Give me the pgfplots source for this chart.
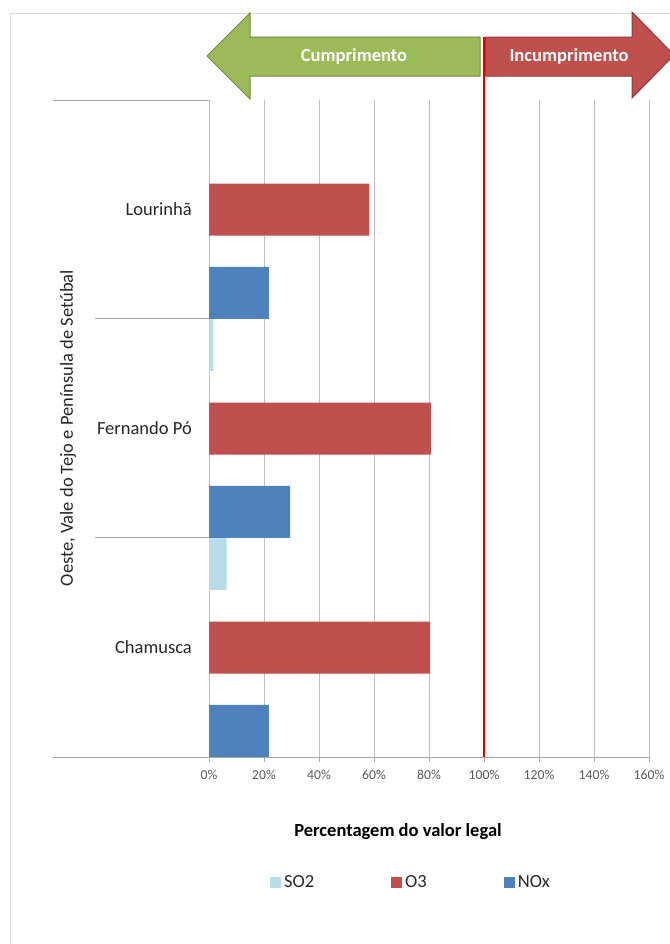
\documentclass[border=0pt]{standalone}
\usepackage{fontspec}
\setmainfont{Carlito}
\usepackage{pgfplots}
\pgfplotsset{compat=1.18}
\definecolor{cSO}{HTML}{B7DEE8}
\definecolor{cO}{HTML}{C0504D}
\definecolor{cN}{HTML}{4F81BD}
\definecolor{gArrow}{HTML}{9BBB59}
\definecolor{gArrowD}{HTML}{71893F}
\definecolor{rArrowD}{HTML}{8C3836}
\definecolor{axgray}{HTML}{A6A6A6}
\definecolor{gridgray}{HTML}{BFBFBF}
\definecolor{framegray}{HTML}{D9D9D9}
\definecolor{txt}{HTML}{262626}
\definecolor{ticktxt}{HTML}{595959}
\newcommand\fs{\fontsize{18.5bp}{22bp}\selectfont}
\newcommand\fst{\fontsize{13.7bp}{16bp}\selectfont}
\begin{document}
\begin{tikzpicture}[x=1bp,y=1bp]
\useasboundingbox (0,0) rectangle (670,-944);
\fill[white] (0,0) rectangle (670,-944);
\draw[framegray, line width=1bp] (10.5,-944) -- (10.5,-13) -- (670,-13);
% arrows
\filldraw[fill=gArrow, draw=gArrowD, line width=1bp] (207,-56) -- (250,-13) -- (250,-37) -- (480,-37) -- (480,-76) -- (250,-76) -- (250,-99) -- cycle;
\filldraw[fill=cO, draw=rArrowD, line width=1bp] (485,-37) -- (632,-37) -- (632,-12) -- (674,-55) -- (632,-98) -- (632,-76) -- (485,-76) -- cycle;
\node[white, font=\fs\bfseries] at (354,-56) {Cumprimento};
\node[white, font=\fs\bfseries] at (569,-56) {Incumprimento};
\begin{axis}[
  at={(209bp,-757bp)}, anchor=south west,
  width=440bp, height=657bp, scale only axis,
  xmin=0, xmax=160, ymin=0, ymax=3,
  axis line style={draw=none},
  xtick={0,20,...,160},
  xticklabels={0\%,20\%,40\%,60\%,80\%,100\%,120\%,140\%,160\%},
  xtick pos=left,
  tick align=outside, major tick length=5bp,
  x tick style={axgray, line width=0.8bp},
  ytick={0.5,1.5,2.5},
  yticklabels={Chamusca,Fernando Pó,Lourinhã},
  y tick style={draw=none},
  xmajorgrids, grid style={gridgray, line width=0.8bp},
  xticklabel style={font=\fst, text=ticktxt, inner sep=0pt},
  yticklabel style={font=\fs, text=txt, inner sep=0pt, anchor=east},
  xticklabel shift=7.5bp,
  yticklabel shift=12bp,
  legend columns=3,
  legend style={draw=none, fill=none, inner sep=0pt, font=\fs, text=txt,
    at={(0.4568,-0.1903)}, anchor=center,
    nodes={inner sep=0pt},
    /tikz/every odd column/.append style={column sep=3bp},
    /tikz/every even column/.append style={column sep=77bp}},
]
\addplot[xbar, bar width=0.2374, bar shift=0pt, fill=cSO, draw=none,
  legend image code/.code={\fill[cSO] (0bp,-5.5bp) rectangle (11bp,5.5bp);}]
  coordinates {(1.6,1.881) (6.4,0.881)};
\addlegendentry{SO2}
\addplot[xbar, bar width=0.2374, bar shift=0pt, fill=cO, draw=none,
  legend image code/.code={\fill[cO] (0bp,-5.5bp) rectangle (11bp,5.5bp);}]
  coordinates {(58.2,2.5) (80.7,1.5) (80.4,0.5)};
\addlegendentry{O3}
\addplot[xbar, bar width=0.2374, bar shift=0pt, fill=cN, draw=none,
  legend image code/.code={\fill[cN] (0bp,-5.5bp) rectangle (11bp,5.5bp);}]
  coordinates {(21.8,2.119) (29.5,1.119) (21.8,0.119)};
\addlegendentry{NOx}
\end{axis}
\draw[axgray, line width=0.8bp] (53,-100) -- (209,-100);
\draw[axgray, line width=0.8bp] (95,-318) -- (209,-318);
\draw[axgray, line width=0.8bp] (95,-537) -- (209,-537);
\draw[axgray, line width=0.8bp] (53,-757) -- (649,-757);
\draw[red!90!black, line width=2bp] (484,-37) -- (484,-757);
\node[rotate=90, font=\fs, text=txt] at (68,-428) {Oeste, Vale do Tejo e Península de Setúbal};
\node[font=\fs\bfseries, text=black] at (398,-832) {Percentagem do valor legal};
\end{tikzpicture}
\end{document}
